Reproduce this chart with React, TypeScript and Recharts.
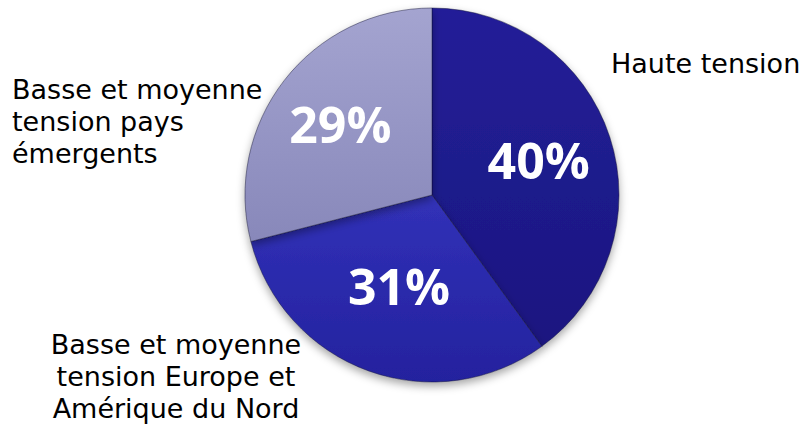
import React from "react";
import { PieChart, Pie, Cell } from "recharts";

// ---- data ----
const categories: string[] = [
  "Haute tension",
  "Basse et moyenne tension Europe et Amérique du Nord",
  "Basse et moyenne tension pays émergents",
];
const values: number[] = [40, 31, 29];
const percentLabels: string[] = ["40%", "31%", "29%"];
const nameLines: string[][] = [
  ["Haute tension"],
  ["Basse et moyenne", "tension Europe et", "Amérique du Nord"],
  ["Basse et moyenne", "tension pays", "émergents"],
];

// ---- styles / layout ----
const gradTop = ["#231f98", "#3131b8", "#a4a4d0"];
const gradBottom = ["#1a1680", "#24229e", "#8888ba"];
const labelRadiusFrac = [0.6, 0.52, 0.62];
const nameAnchors: { x: number; y: number; anchor: "start" | "middle" | "end" }[] = [
  { x: 611, y: 73, anchor: "start" },
  { x: 176, y: 354, anchor: "middle" },
  { x: 12, y: 99, anchor: "start" },
];
const LINE_H = 32;
const NAME_FONT = "'DejaVu Sans', sans-serif";
const PCT_FONT = "'Open Sans', 'DejaVu Sans', sans-serif";

const data = categories.map((name, i) => ({ name, value: values[i] }));
const RAD = Math.PI / 180;

const renderLabel = (props: any) => {
  const { cx, cy, midAngle, outerRadius, index } = props;
  const r = outerRadius * labelRadiusFrac[index];
  const x = cx + r * Math.cos(-midAngle * RAD);
  const y = cy + r * Math.sin(-midAngle * RAD);
  const a = nameAnchors[index];
  return (
    <g key={`lbl-${index}`}>
      <text
        x={x}
        y={y}
        fill="#ffffff"
        textAnchor="middle"
        dominantBaseline="central"
        fontFamily={PCT_FONT}
        fontWeight={700}
        fontSize={50}
      >
        {percentLabels[index]}
      </text>
      {nameLines[index].map((ln, j) => (
        <text
          key={j}
          x={a.x}
          y={a.y + j * LINE_H}
          fill="#000000"
          textAnchor={a.anchor}
          fontFamily={NAME_FONT}
          fontSize={27}
        >
          {ln}
        </text>
      ))}
    </g>
  );
};

export default function App() {
  return (
    <div style={{ position: "absolute", left: 0, top: 0, background: "#ffffff" }}>
      <PieChart width={805} height={435} margin={{ top: 0, right: 0, bottom: 0, left: 0 }}>
        <defs>
          {gradTop.map((c, i) => (
            <linearGradient key={i} id={`g${i}`} x1="0" y1="0" x2="0" y2="1">
              <stop offset="0%" stopColor={c} />
              <stop offset="100%" stopColor={gradBottom[i]} />
            </linearGradient>
          ))}
          <filter id="shadow" x="-20%" y="-20%" width="140%" height="140%">
            <feDropShadow dx="0" dy="4" stdDeviation="4" floodColor="#000" floodOpacity="0.35" />
          </filter>
        </defs>
        <Pie
          data={data}
          dataKey="value"
          nameKey="name"
          cx={432}
          cy={195}
          outerRadius={187}
          startAngle={90}
          endAngle={-270}
          stroke="rgba(20,20,50,0.45)"
          strokeWidth={1}
          label={renderLabel}
          labelLine={false}
          isAnimationActive={false}
          style={{ filter: "url(#shadow)" }}
        >
          {data.map((d, i) => (
            <Cell key={d.name} fill={`url(#g${i})`} />
          ))}
        </Pie>
      </PieChart>
    </div>
  );
}
